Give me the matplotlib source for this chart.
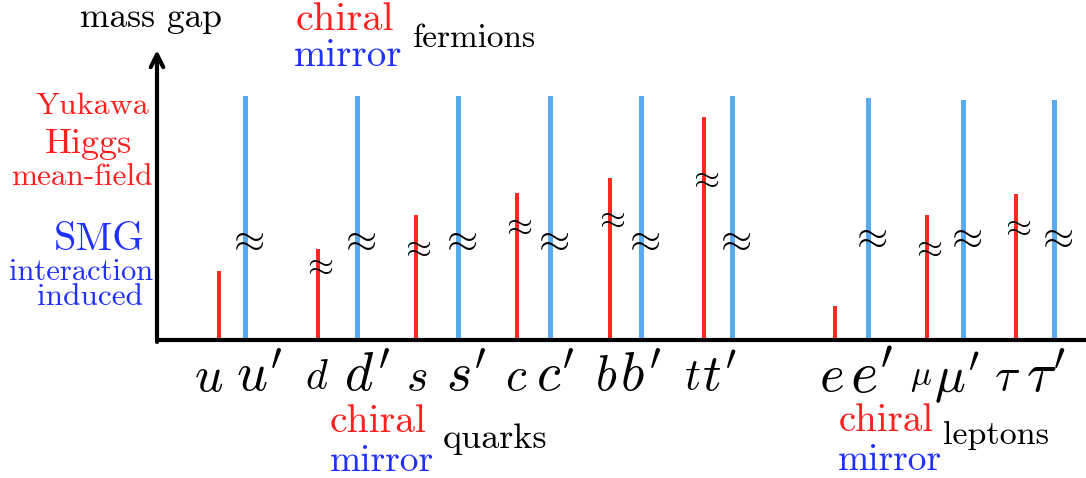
import matplotlib
matplotlib.use("Agg")
import matplotlib.pyplot as plt

plt.rcParams['mathtext.fontset'] = 'cm'
plt.rcParams['font.family'] = 'serif'
plt.rcParams['font.serif'] = ['cmr10', 'DejaVu Serif']
plt.rcParams['axes.unicode_minus'] = False

# data: fermion names and mass gaps (arbitrary units, baseline = 0)
chiral_names = ['u', 'd', 's', 'c', 'b', 't', 'e', r'\mu', r'\tau']
chiral_gap = [69, 91, 125, 147, 162, 223, 34, 125, 146]
mirror_gap = [244, 244, 244, 244, 244, 244, 242, 240, 240]
# height of the "approx" break markers on each bar (None = no marker)
chiral_break = [None, 75, 93, 115, 122, 162, None, 93, 114]
mirror_break = [100, 100, 100, 100, 100, 100, 103, 103, 103]

# layout (pixel-like units along the axis)
chiral_x = [219, 318, 416, 517, 610, 704, 835, 927, 1016]
mirror_x = [245, 357, 458, 550, 641, 732, 868, 963, 1054]
chiral_lab_x = [209, 317, 417, 516, 606, 692, 831, 921, 1007]
mirror_lab_x = [259, 367, 466, 555, 641, 720, 872, 957, 1046]
chiral_lab_fs = [36, 30, 33, 34, 35, 32, 38, 25, 34]
mirror_lab_fs = [39, 39, 39, 39, 39, 37, 42, 37, 40]

RED = '#ff2a1f'
BLUE = '#5aaaf2'
RED_T = '#ff1f1f'
BLUE_T = '#1f30ff'

fig = plt.figure(figsize=(10.86, 4.78), dpi=100)
ax = fig.add_axes([0, 0, 1, 1])
ax.set_xlim(0, 1086)
ax.set_ylim(-138, 340)
ax.axis('off')

ax.bar(chiral_x, chiral_gap, width=4, color=RED, zorder=2)
ax.bar(mirror_x, mirror_gap, width=5, color=BLUE, zorder=2)

# axes
ax.plot([157, 1086], [0, 0], color='black', lw=3, solid_capstyle='butt', zorder=3)
ax.annotate('', xy=(157, 290), xytext=(157, -2),
            arrowprops=dict(arrowstyle='->,head_length=0.9,head_width=0.45',
                            lw=3, color='black', shrinkA=0, shrinkB=0))

# break markers
for x, yb in zip(chiral_x, chiral_break):
    if yb is not None:
        ax.text(x, yb, r'$\approx$', fontsize=24, ha='center', va='center', zorder=4)
for x, yb in zip(mirror_x, mirror_break):
    ax.text(x, yb, r'$\approx$', fontsize=29, ha='center', va='center', zorder=4)

# particle labels
for x, n, fs in zip(chiral_lab_x, chiral_names, chiral_lab_fs):
    ax.text(x, -38, '$' + n + '$', fontsize=fs, ha='center', va='center')
for x, n, fs in zip(mirror_lab_x, chiral_names, mirror_lab_fs):
    ax.text(x, -38, '$' + n + "'$", fontsize=fs, ha='center', va='center')

# left annotations
ax.text(92, 234, 'Yukawa', color=RED_T, fontsize=23, ha='center', va='center')
ax.text(89, 196, 'Higgs', color=RED_T, fontsize=26, ha='center', va='center')
ax.text(82, 163, 'mean-field', color=RED_T, fontsize=22.5, ha='center', va='center')
ax.text(99, 100, 'SMG', color=BLUE_T, fontsize=29, ha='center', va='center')
ax.text(81, 68, 'interaction', color=BLUE_T, fontsize=22, ha='center', va='center')
ax.text(90, 43, 'induced', color=BLUE_T, fontsize=22.5, ha='center', va='center')

# top legend
ax.text(151, 322, 'mass gap', fontsize=25.5, ha='center', va='center')
ax.text(345, 320, 'chiral', color=RED_T, fontsize=29, ha='center', va='center')
ax.text(348, 284, 'mirror', color=BLUE_T, fontsize=28, ha='center', va='center')
ax.text(474, 302, 'fermions', fontsize=24, ha='center', va='center')

# bottom legends
ax.text(378, -82, 'chiral', color=RED_T, fontsize=28.5, ha='center', va='center')
ax.text(382, -121, 'mirror', color=BLUE_T, fontsize=27, ha='center', va='center')
ax.text(495, -99, 'quarks', fontsize=26, ha='center', va='center')
ax.text(886, -81, 'chiral', color=RED_T, fontsize=28, ha='center', va='center')
ax.text(890, -120, 'mirror', color=BLUE_T, fontsize=27, ha='center', va='center')
ax.text(996, -95, 'leptons', fontsize=24.5, ha='center', va='center')

fig.savefig('out.png', dpi=100)
